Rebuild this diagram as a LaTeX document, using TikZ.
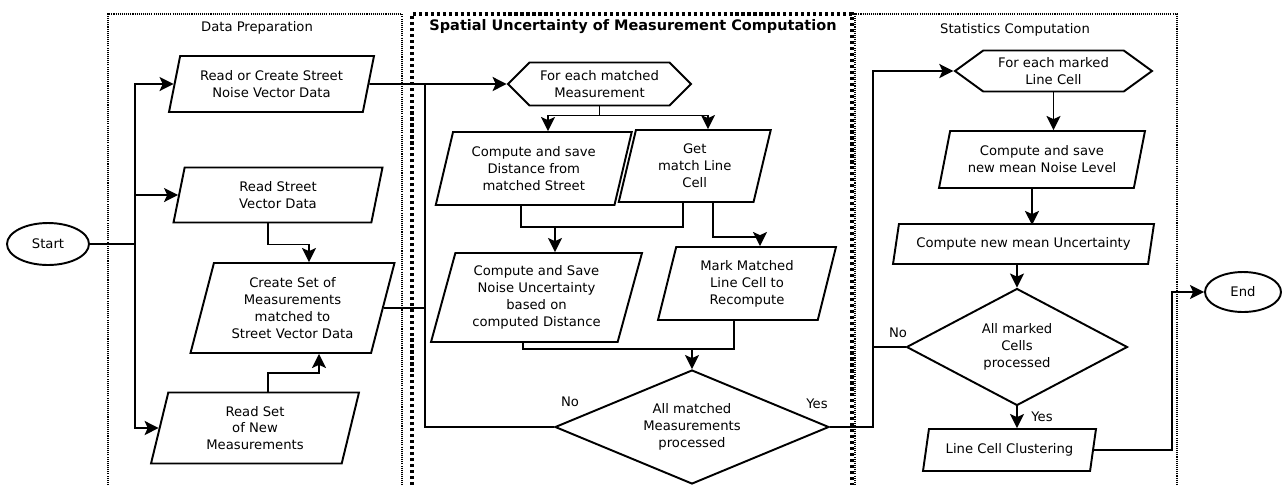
\documentclass[tikz,border=0pt]{standalone}
\usepackage{fontspec}
\setmainfont{DejaVu Sans}
\usetikzlibrary{shapes.geometric,shapes.symbols,arrows.meta}

\begin{document}
\begin{tikzpicture}[
  x = 0.02cm, y = -0.02cm,
  line width = 1.1pt,
  every node/.style = {font = \fontsize{7.5}{9.6}\selectfont, align = center},
  io/.style = {draw, trapezium, trapezium left angle = 70, trapezium right angle = 110,
               trapezium stretches body, inner sep = 1pt},
  loopbox/.style = {draw, signal, signal to = east and west, inner sep = 1pt},
  decision/.style = {draw, diamond, inner sep = 0pt},
  terminal/.style = {draw, ellipse, inner sep = 0pt},
  frame/.style = {line width = 0.6pt, dash pattern = on 0.6pt off 0.6pt},
  bigframe/.style = {line width = 1.8pt, dash pattern = on 1.8pt off 1.6pt},
  flow/.style = {-{Stealth[length = 8pt, width = 8pt, inset = 1.8pt]}},
  ]
  \useasboundingbox (0,0) rectangle (1282,485);

  \draw[frame] (108,485) |- (402,14) -- (402,485);
  \draw[bigframe] (412,485) |- (852,14) -- (852,485);
  \draw[frame] (855,485) |- (1177,14) -- (1177,485);
  \node (tprep) at (257,28) {Data Preparation};
  \node[font = \fontsize{8.25}{10}\selectfont\bfseries] (tspat) at (633,27)
    {Spatial Uncertainty of Measurement Computation};
  \node (tstat) at (1015,30) {Statistics Computation};

  \node[terminal, minimum width = 1.64cm, minimum height = 0.84cm] (start) at (48,244) {Start};
  \node[io, minimum width = 4.1cm, minimum height = 1.12cm] (rcs) at (271.5,84)
    {Read or Create Street\\Noise Vector Data};
  \node[io, minimum width = 4.18cm, minimum height = 1.1cm] (rsv) at (278,195)
    {Read Street\\Vector Data};
  \node[io, minimum width = 4.08cm, minimum height = 1.8cm] (csm) at (292.5,308)
    {Create Set of\\Measurements\\matched to\\Street Vector Data};
  \node[io, minimum width = 4.16cm, minimum height = 1.42cm] (rsn) at (255,428)
    {Read Set\\of New\\Measurements};

  \node[loopbox, minimum width = 3.66cm, minimum height = 0.86cm] (hexa) at (599.5,84)
    {For each matched\\Measurement};
  \node[io, minimum width = 3.92cm, minimum height = 1.46cm] (cdist) at (533.75,168.5)
    {Compute and save\\Distance from\\matched Street};
  \node[io, minimum width = 3.04cm, minimum height = 1.44cm] (gmlc) at (694.75,166)
    {Get\\match Line\\Cell};
  \node[io, minimum width = 4.22cm, minimum height = 1.78cm] (cnu) at (536.5,297.5)
    {Compute and Save\\Noise Uncertainty\\based on\\computed Distance};
  \node[io, minimum width = 3.56cm, minimum height = 1.46cm] (mmlc) at (747,283.5)
    {Mark Matched\\Line Cell to\\Recompute};
  \node[decision, aspect = 2.4, minimum width = 5.48cm, minimum height = 2.28cm] (dmm) at (692,427)
    {All matched\\Measurements\\processed};

  \node[loopbox, signal pointer angle = 72, minimum width = 3.94cm, minimum height = 0.82cm]
    (hexb) at (1053.5,71) {For each marked\\Line Cell};
  \node[io, minimum width = 4.12cm, minimum height = 1.14cm] (cnl) at (1042,159.5)
    {Compute and save\\new mean Noise Level};
  \node[io, minimum width = 5.22cm, minimum height = 0.8cm] (cmu) at (1023.5,244)
    {Compute new mean Uncertainty};
  \node[decision, aspect = 1.9, minimum width = 4.42cm, minimum height = 2.34cm] (dmc) at (1017,347)
    {All marked\\Cells\\processed};
  \node[io, minimum width = 3.46cm, minimum height = 0.84cm] (lcc) at (1009.5,450)
    {Line Cell Clustering};
  \node[terminal, minimum width = 1.52cm, minimum height = 0.8cm] (finish) at (1243,292) {End};

  \node (no1) at (570,402) {No};
  \node (yes1) at (817,404) {Yes};
  \node (no2) at (898,333) {No};
  \node (yes2) at (1042,417) {Yes};

  \coordinate (ja) at (135,244);
  \coordinate (jb) at (425,84);
  \coordinate (jc) at (555,227);
  \coordinate (jd) at (692,349);
  \coordinate (je) at (873,427);
  \coordinate (jf) at (1172,292);

  \draw (start) -- (ja);
  \draw[flow] (ja) |- (rcs);
  \draw[flow] (ja) |- (rsv);
  \draw[flow] (ja) |- (rsn);
  \draw[flow] ([xshift = -0.2cm]rsv.south) -- ++(0,21) -| ([xshift = 0.33cm]csm.north);
  \draw[flow] ([xshift = 0.26cm]rsn.north) -- ++(0,-19) -| ([xshift = 0.53cm]csm.south);
  \draw[flow] (rcs) -- (hexa);
  \draw (csm) -- (csm -| jb);
  \draw (dmm) -| (jb);
  \draw[flow] (hexa.south) -- ++(0,9) -| ([xshift = 0.285cm]cdist.north);
  \draw[flow] (hexa.south) -- ++(0,9) -| ([xshift = 0.265cm]gmlc.north);
  \draw ([xshift = -0.255cm]cdist.south) |- (jc);
  \draw ([xshift = -0.235cm]gmlc.south) |- (jc);
  \draw[flow] (jc) -- (jc |- cnu.north);
  \draw[flow] ([xshift = 0.365cm]gmlc.south) -- ++(0,34) -| ([xshift = 0.26cm]mmlc.north);
  \draw ([xshift = -0.27cm]cnu.south) |- (jd);
  \draw ([xshift = -0.26cm]mmlc.south) |- (jd);
  \draw[flow] (jd) -- (dmm);
  \draw[flow] (dmm) -- (je) |- (hexb);
  \draw (dmc) -- (dmc -| je);
  \draw[flow] (hexb.south) -- (hexb.south |- cnl.north);
  \draw[flow] ([xshift = -0.2cm]cnl.south) -- ++(0,36);
  \draw[flow] (cmu.south -| dmc.north) -- (dmc);
  \draw[flow] (dmc) -- (dmc |- lcc.north);
  \draw[flow] (lcc) -| (jf) -- (finish);
\end{tikzpicture}
\end{document}
